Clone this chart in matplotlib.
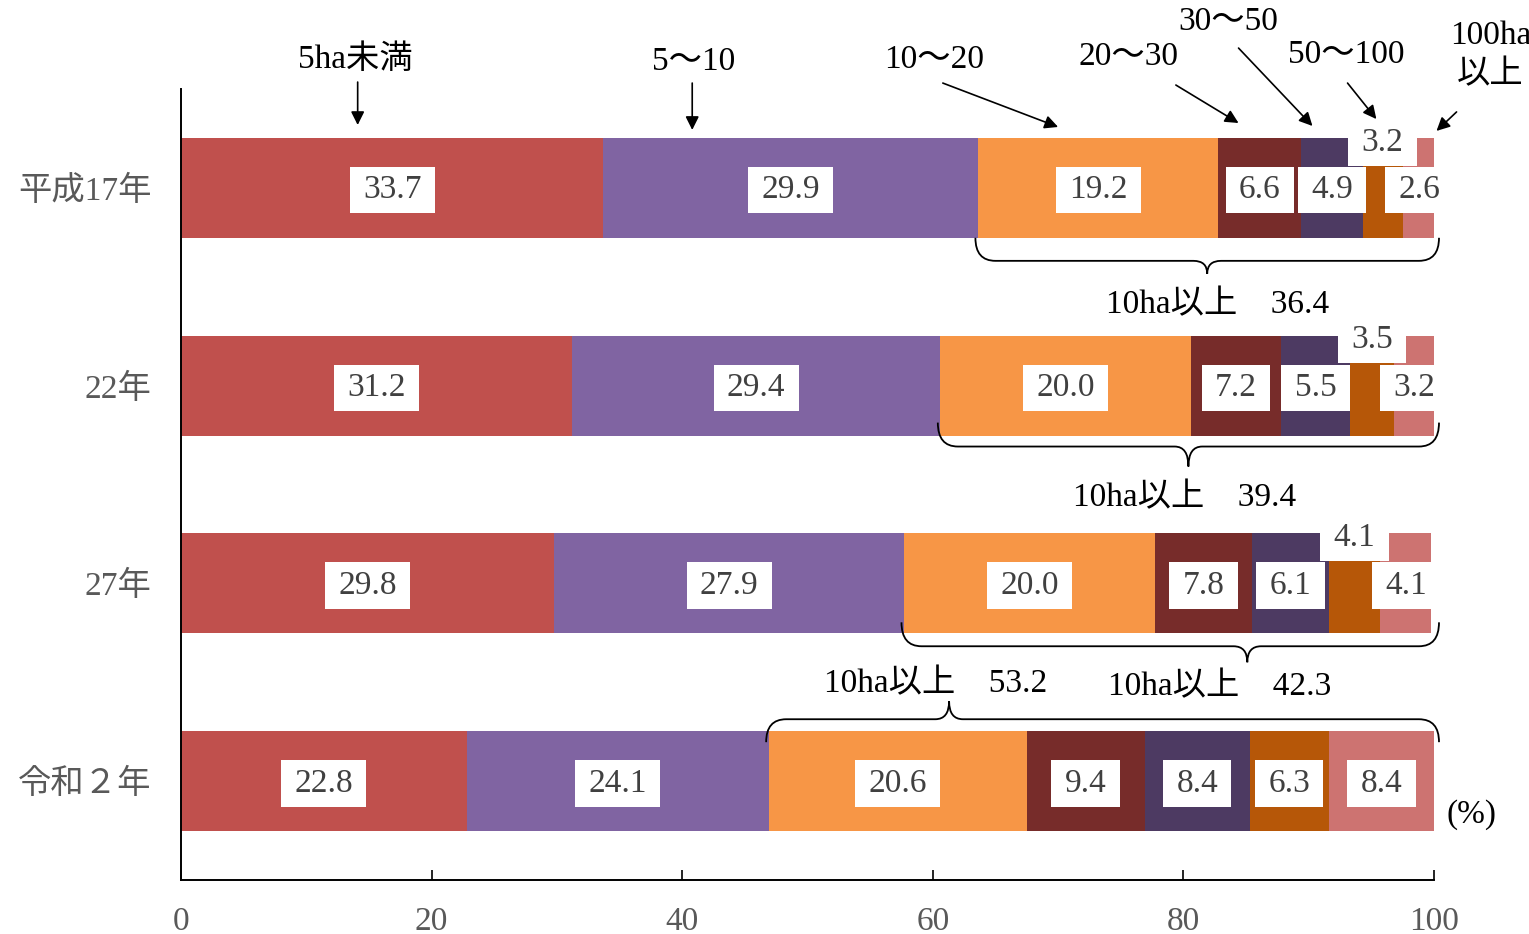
import matplotlib
matplotlib.use('Agg')
import matplotlib.pyplot as plt
import numpy as np
from matplotlib.path import Path
from matplotlib.patches import PathPatch

plt.rcParams['font.family'] = ['Liberation Serif', 'Noto Sans CJK JP']

# ---------------- data ----------------
years = ['平成17年', '22年', '27年', '令和２年']
classes = ['5ha未満', '5～10', '10～20', '20～30', '30～50', '50～100', '100ha\n以上']
s_lt5 = [33.7, 31.2, 29.8, 22.8]
s_5_10 = [29.9, 29.4, 27.9, 24.1]
s_10_20 = [19.2, 20.0, 20.0, 20.6]
s_20_30 = [6.6, 7.2, 7.8, 9.4]
s_30_50 = [4.9, 5.5, 6.1, 8.4]
s_50_100 = [3.2, 3.5, 4.1, 6.3]
s_ge100 = [2.6, 3.2, 4.1, 8.4]
over10_totals = [36.4, 39.4, 42.3, 53.2]
x_ticks = [0, 20, 40, 60, 80, 100]

series = [s_lt5, s_5_10, s_10_20, s_20_30, s_30_50, s_50_100, s_ge100]
colors = ['#C0504D', '#8064A2', '#F79646', '#772C2A', '#4D3A62', '#B65708', '#CD7371']

# ---------------- layout ----------------
W, H = 1529, 934
fig = plt.figure(figsize=(W / 100, H / 100), dpi=100)
ax = fig.add_axes([181 / W, 1 - 880 / H, (1434 - 181) / W, (880 - 89) / H])

ypos = np.arange(len(years))
bar_h = 0.505
label_color = '#404040'
fs = 24
fs_lab = 24


def label_box(x0, y0, width, height, mutation_size):
    px, py = 0.40 * mutation_size, 0.24 * mutation_size
    x0, y0 = x0 - px, y0 - py
    x1, y1 = x0 + width + 2 * px, y0 + height + 2 * py
    return Path([(x0, y0), (x1, y0), (x1, y1), (x0, y1), (x0, y0)], closed=True)


left = np.zeros(len(years))
for j, (vals, c) in enumerate(zip(series, colors)):
    vals = np.array(vals)
    ax.barh(ypos, vals, left=left, height=bar_h, color=c, linewidth=0, zorder=2)
    for i, v in enumerate(vals):
        dy = -0.23 if (j == 5 and i < 3) else 0.012
        ax.text(left[i] + v / 2, ypos[i] + dy, f'{v:.1f}', ha='center', va='center',
                fontsize=fs_lab, color=label_color, zorder=5,
                bbox=dict(boxstyle=label_box, facecolor='white', edgecolor='none'))
    left = left + vals

ax.set_xlim(0, 100)
ax.set_ylim(3.5, -0.5)
ax.set_xticks(x_ticks)
ax.set_yticks(ypos)
ax.set_yticklabels(years)
ax.tick_params(axis='x', direction='in', length=7, width=1.2, pad=19,
               labelcolor='#595959', labelsize=fs)
ax.tick_params(axis='y', length=0, pad=21, labelcolor='#595959', labelsize=fs)
for s in ['top', 'right']:
    ax.spines[s].set_visible(False)
for s in ['left', 'bottom']:
    ax.spines[s].set_linewidth(1.4)
    ax.spines[s].set_color('black')


# ---------------- braces ----------------
def brace(x0, x1, xt, ye, ym, yt, rx=1.6, rt=1.1):
    verts = [(x0, ye), (x0, ym), (x0 + rx, ym),
             (xt - rt, ym), (xt, ym), (xt, yt),
             (xt, ym), (xt + rt, ym),
             (x1 - rx, ym), (x1, ym), (x1, ye)]
    codes = [Path.MOVETO, Path.CURVE3, Path.CURVE3,
             Path.LINETO, Path.CURVE3, Path.CURVE3,
             Path.CURVE3, Path.CURVE3,
             Path.LINETO, Path.CURVE3, Path.CURVE3]
    ax.add_patch(PathPatch(Path(verts, codes), facecolor='none', edgecolor='black',
                           lw=1.3, clip_on=False, zorder=6))


start10 = np.array(s_lt5) + np.array(s_5_10)
brace_tip_x = [81.9, 80.4, 85.1, 61.3]
brace_y = [(0.2525, 0.369, 0.434), (0.187, 0.308, 0.409),
           (0.197, 0.318, 0.399), (-0.197, -0.313, -0.404)]
brace_text_pos = [(82.7, 0.591), (80.1, 0.566), (82.9, 0.525), (60.2, -0.49)]
for i in range(len(years)):
    ye, ym, yt = brace_y[i]
    brace(start10[i] - 0.2, 100.4, brace_tip_x[i], i + ye, i + ym, i + yt)
    tx, ty = brace_text_pos[i]
    ax.text(tx, i + ty, f'10ha以上　{over10_totals[i]:.1f}', ha='center', va='center',
            fontsize=fs, color='black', clip_on=False, zorder=7)

# ---------------- class annotations ----------------
class_text_pos = [(13.9, -0.646), (40.9, -0.636), (60.1, -0.646), (75.6, -0.662),
                  (83.6, -0.838), (93.0, -0.672), (104.5, -0.67)]
arrow_tail = [(14.1, -0.535), (40.8, -0.53), (60.8, -0.53), (79.4, -0.52),
              (84.4, -0.707), (93.1, -0.53), (101.8, -0.384)]
arrow_head = [(14.1, -0.318), (40.8, -0.293), (70.0, -0.308), (84.4, -0.328),
              (90.3, -0.313), (95.4, -0.348), (100.2, -0.288)]
for name, tp, at, ah in zip(classes, class_text_pos, arrow_tail, arrow_head):
    ax.text(tp[0], tp[1], name, ha='center', va='center', fontsize=fs,
            color='black', clip_on=False, linespacing=1.35)
    ax.annotate('', xy=ah, xytext=at,
                arrowprops=dict(arrowstyle='-|>', color='black', lw=1.2,
                                mutation_scale=20, shrinkA=0, shrinkB=0),
                annotation_clip=False)

ax.text(103.0, 3.167, '(%)', ha='center', va='center', fontsize=fs,
        color='black', clip_on=False)

fig.savefig('out.png', dpi=100)
